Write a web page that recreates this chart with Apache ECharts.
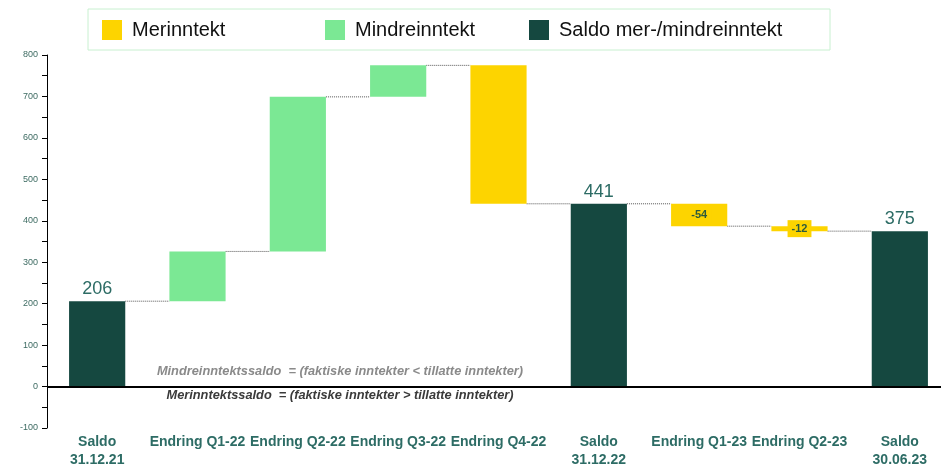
<!DOCTYPE html>
<html lang="no">
<head>
<meta charset="UTF-8">
<title>Mer-/mindreinntekt</title>
<script src="https://cdn.jsdelivr.net/npm/echarts@6/dist/echarts.min.js"></script>
<style>
  html, body { margin: 0; padding: 0; background: #fff; }
  #chart { width: 941px; height: 467px; }
</style>
</head>
<body>
<div id="chart"></div>
<script>
// Kategorier og verdier (lest av fra figuren)
const categories = [
  'Saldo\n31.12.21', 'Endring Q1-22', 'Endring Q2-22', 'Endring Q3-22', 'Endring Q4-22',
  'Saldo\n31.12.22', 'Endring Q1-23', 'Endring Q2-23', 'Saldo\n30.06.23'
];
const saldoValues  = [206, null, null, null, null, 441, null, null, 375];
const changeValues = [null, 120, 373, 76, -334, null, -54, -12, null];
const showChangeLabel = [false, false, false, false, false, false, true, true, false];

const YELLOW = '#fdd400';
const GREEN = '#7be894';
const DARK = '#154840';
const TEAL_TEXT = '#2d6c65';

// bygg stablede serier for fossefallet
const base = [], mer = [], mindre = [], saldo = [], levels = [];
let level = 0;
categories.forEach((c, i) => {
  if (saldoValues[i] != null) {
    level = saldoValues[i];
    base.push(0); mer.push(null); mindre.push(null); saldo.push(level);
  } else {
    const d = changeValues[i];
    const next = level + d;
    base.push(Math.min(level, next));
    saldo.push(null);
    if (d < 0) {
      mindre.push(null);
      mer.push({
        value: -d,
        label: { show: showChangeLabel[i], formatter: String(d) }
      });
    } else {
      mer.push(null);
      mindre.push(d);
    }
    level = next;
  }
  levels.push(level);
});

// forbindelseslinjer mellom søylene
const connectors = levels.slice(0, -1).map((v, i) => [i, v]);

const chart = echarts.init(document.getElementById('chart'));

const legendCommon = {
  icon: 'rect',
  itemWidth: 20,
  itemHeight: 20,
  selectedMode: false,
  textStyle: {
    fontFamily: 'Liberation Sans, Arial, sans-serif',
    fontSize: 20,
    color: '#111',
    padding: [0, 0, 0, 5]
  }
};

const option = {
  animation: false,
  backgroundColor: '#fff',
  legend: [
    Object.assign({ data: ['Merinntekt'], left: 97, top: 15 }, legendCommon),
    Object.assign({ data: ['Mindreinntekt'], left: 320, top: 15 }, legendCommon),
    Object.assign({ data: ['Saldo mer-/mindreinntekt'], left: 524, top: 15 }, legendCommon)
  ],
  grid: { left: 47, top: 55, bottom: 39, right: -9, outerBoundsMode: 'none', containLabel: false },
  xAxis: {
    type: 'category',
    data: categories,
    axisLine: { show: false },
    axisTick: { show: false },
    axisLabel: {
      interval: 0,
      margin: 5,
      fontFamily: 'Liberation Sans, Arial, sans-serif',
      fontWeight: 'bold',
      fontSize: 14,
      lineHeight: 18,
      color: TEAL_TEXT
    }
  },
  yAxis: {
    type: 'value',
    min: -100,
    max: 800,
    interval: 100,
    splitLine: { show: false },
    axisLine: { show: true, lineStyle: { color: '#000', width: 1 } },
    axisTick: { show: true, length: 5, lineStyle: { color: '#000' } },
    minorTick: { show: true, splitNumber: 2, length: 5, lineStyle: { color: '#000' } },
    axisLabel: {
      fontFamily: 'Liberation Sans, Arial, sans-serif',
      fontSize: 9,
      color: '#3d6b62',
      margin: 9
    }
  },
  series: [
    {
      name: 'base',
      type: 'bar',
      stack: 'w',
      barWidth: '56%',
      itemStyle: { color: 'transparent' },
      data: base,
      silent: true,
      markLine: {
        silent: true,
        symbol: 'none',
        label: { show: false },
        lineStyle: { color: '#000', width: 2, type: 'solid' },
        data: [{ yAxis: 0 }]
      }
    },
    {
      name: 'Merinntekt',
      type: 'bar',
      stack: 'w',
      barWidth: '56%',
      itemStyle: { color: YELLOW },
      label: {
        show: false,
        position: 'inside',
        fontFamily: 'Liberation Sans, Arial, sans-serif',
        fontWeight: 'bold',
        fontSize: 11,
        color: '#2c5a3c',
        backgroundColor: YELLOW,
        padding: [3, 4]
      },
      data: mer
    },
    {
      name: 'Mindreinntekt',
      type: 'bar',
      stack: 'w',
      barWidth: '56%',
      itemStyle: { color: GREEN },
      data: mindre
    },
    {
      name: 'Saldo mer-/mindreinntekt',
      type: 'bar',
      stack: 'w',
      barWidth: '56%',
      itemStyle: { color: DARK },
      label: {
        show: true,
        position: 'top',
        distance: 3,
        fontFamily: 'Liberation Sans, Arial, sans-serif',
        fontSize: 18,
        color: TEAL_TEXT
      },
      data: saldo
    },
    {
      name: 'connectors',
      type: 'custom',
      silent: true,
      data: connectors,
      renderItem: function (params, api) {
        const p = api.coord([api.value(0), api.value(1)]);
        const bw = api.size([1, 0])[0];
        return {
          type: 'line',
          shape: { x1: p[0] + bw * 0.28, y1: p[1], x2: p[0] + bw * 0.72, y2: p[1] },
          style: { stroke: '#555', lineWidth: 1, lineDash: [1, 1] }
        };
      }
    }
  ],
  graphic: [
    {
      type: 'rect',
      silent: true,
      shape: { x: 88, y: 9, width: 742, height: 41 },
      style: { fill: 'none', stroke: '#c8f0d0', lineWidth: 1 }
    },
    {
      type: 'text',
      silent: true,
      x: 340, y: 371,
      style: {
        text: 'Mindreinntektssaldo  = (faktiske inntekter < tillatte inntekter)',
        font: 'italic bold 12.8px Liberation Sans, Arial, sans-serif',
        fill: '#8a8a8a',
        textAlign: 'center',
        textVerticalAlign: 'middle'
      }
    },
    {
      type: 'text',
      silent: true,
      x: 340, y: 395,
      style: {
        text: 'Merinntektssaldo  = (faktiske inntekter > tillatte inntekter)',
        font: 'italic bold 12.8px Liberation Sans, Arial, sans-serif',
        fill: '#3a3a3a',
        textAlign: 'center',
        textVerticalAlign: 'middle'
      }
    }
  ]
};

chart.setOption(option);
</script>
</body>
</html>
